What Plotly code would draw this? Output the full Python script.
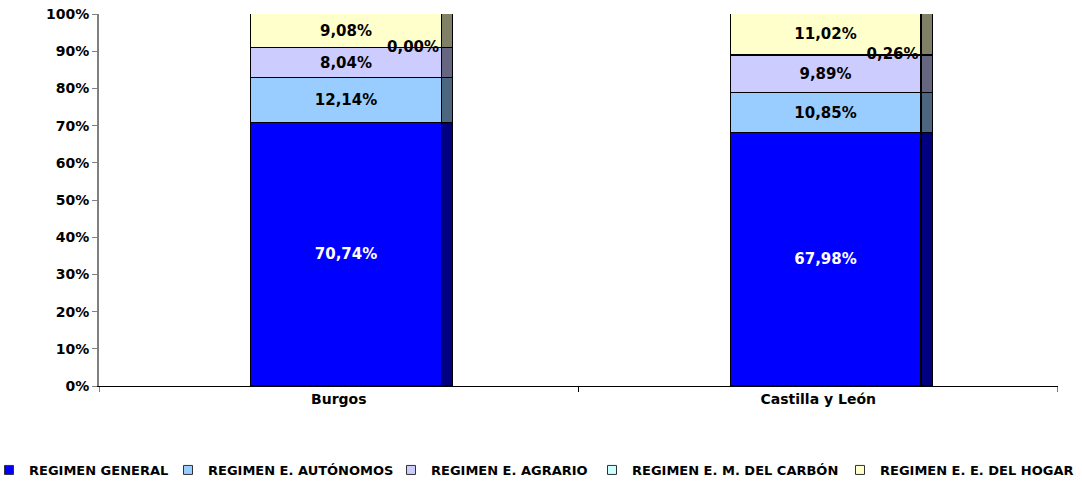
import plotly.graph_objects as go

categories = ["Burgos", "Castilla y León"]
series_names = ["REGIMEN GENERAL", "REGIMEN E. AUTÓNOMOS", "REGIMEN E. AGRARIO",
                "REGIMEN E. M. DEL CARBÓN", "REGIMEN E. E. DEL HOGAR"]
general = [70.74, 67.98]
autonomos = [12.14, 10.85]
agrario = [8.04, 9.89]
carbon = [0.00, 0.26]
hogar = [9.08, 11.02]
y_ticks = [0, 10, 20, 30, 40, 50, 60, 70, 80, 90, 100]

series_values = [general, autonomos, agrario, carbon, hogar]
front_colors = ["#0000FF", "#99CCFF", "#CCCCFF", "#CCFFFF", "#FFFFCC"]
side_colors = ["#000080", "#4C6680", "#666680", "#668080", "#808066"]
text_colors = ["white", "black", "black", "black", "black"]

FONT = "DejaVu Sans"
W, H = 1082, 481
ML, MR, MT, MB = 99, 24, 14, 95
PW, PH = W - ML - MR, H - MT - MB

front_off, front_w = 0.516, 0.398
side_off, side_w = 0.727, 0.023

def fmt(v):
    return f"{v:.2f}%".replace(".", ",")

fig = go.Figure()
xs_front = [i + front_off for i in range(len(categories))]
xs_side = [i + side_off for i in range(len(categories))]

for k, (name, vals) in enumerate(zip(series_names, series_values)):
    is_carbon = k == 3
    fig.add_trace(go.Bar(
        x=xs_front, y=vals, width=[front_w] * len(vals), name=name, showlegend=False,
        marker=dict(color=front_colors[k], line=dict(color="black", width=1)),
        text=None if is_carbon else [fmt(v) for v in vals],
        textposition="inside", insidetextanchor="middle",
        textfont=dict(family=FONT, size=15, color=text_colors[k], weight="bold"),
        hoverinfo="skip",
    ))
for k, vals in enumerate(series_values):
    fig.add_trace(go.Bar(
        x=xs_side, y=vals, width=[side_w] * len(vals), showlegend=False,
        marker=dict(color=side_colors[k], line=dict(color="black", width=1)),
        hoverinfo="skip",
    ))

# carbon labels (near right edge of the bars)
cum_before = [general[i] + autonomos[i] + agrario[i] for i in range(len(categories))]
fig.add_trace(go.Scatter(
    x=[i + 0.655 for i in range(len(categories))],
    y=[cum_before[i] + carbon[i] / 2 for i in range(len(categories))],
    mode="text", text=[fmt(v) for v in carbon], textposition="middle center",
    textfont=dict(family=FONT, size=15, color="black", weight="bold"),
    showlegend=False, hoverinfo="skip", cliponaxis=False,
))

# legend entries (one legend per series, positioned like the original)
legend_text_px = [25, 204, 427, 628, 876]
layout_legends = {}
for k, name in enumerate(series_names):
    lname = "legend" if k == 0 else f"legend{k + 1}"
    fig.add_trace(go.Scatter(
        x=[None], y=[None], mode="markers", name=name, legend=lname,
        marker=dict(symbol="square", size=9, color=front_colors[k],
                    line=dict(color="#333333", width=1)),
        hoverinfo="skip",
    ))
    left_px = legend_text_px[k] - 36
    layout_legends[lname] = dict(
        x=(left_px - ML) / PW, xanchor="left",
        y=-(470 - (H - MB)) / PH, yanchor="middle",
        orientation="h", font=dict(family=FONT, size=13, weight="bold", color="black"),
        bgcolor="rgba(0,0,0,0)", borderwidth=0, itemwidth=30,
    )

shapes = []
for t in [0, 1, 2]:
    shapes.append(dict(type="line", xref="x", yref="paper", x0=t, x1=t, y0=0, y1=-6 / PH,
                       line=dict(color="black", width=1)))

fig.update_layout(
    width=W, height=H,
    margin=dict(l=ML, r=MR, t=MT, b=MB, autoexpand=False),
    plot_bgcolor="white", paper_bgcolor="white",
    barmode="stack", bargap=0,
    shapes=shapes,
    font=dict(family=FONT, color="black"),
    xaxis=dict(range=[0, 2], tickvals=[0.5, 1.5], ticktext=categories, ticks="",
               showline=True, linecolor="black", linewidth=1, showgrid=False, zeroline=False,
               tickfont=dict(family=FONT, size=14, weight="bold")),
    yaxis=dict(range=[0, 100], tickvals=y_ticks, ticktext=[f"{t}%" for t in y_ticks],
               ticks="outside", ticklen=5, tickcolor="#808080", showline=True,
               linecolor="#808080", linewidth=2, showgrid=False, zeroline=False,
               ticklabeloverflow="allow",
               tickfont=dict(family=FONT, size=14, weight="bold")),
    **layout_legends,
)

fig.write_html("out.html", config={"displayModeBar": False},
               post_script="document.body.style.margin='0';document.body.style.overflow='hidden';")
